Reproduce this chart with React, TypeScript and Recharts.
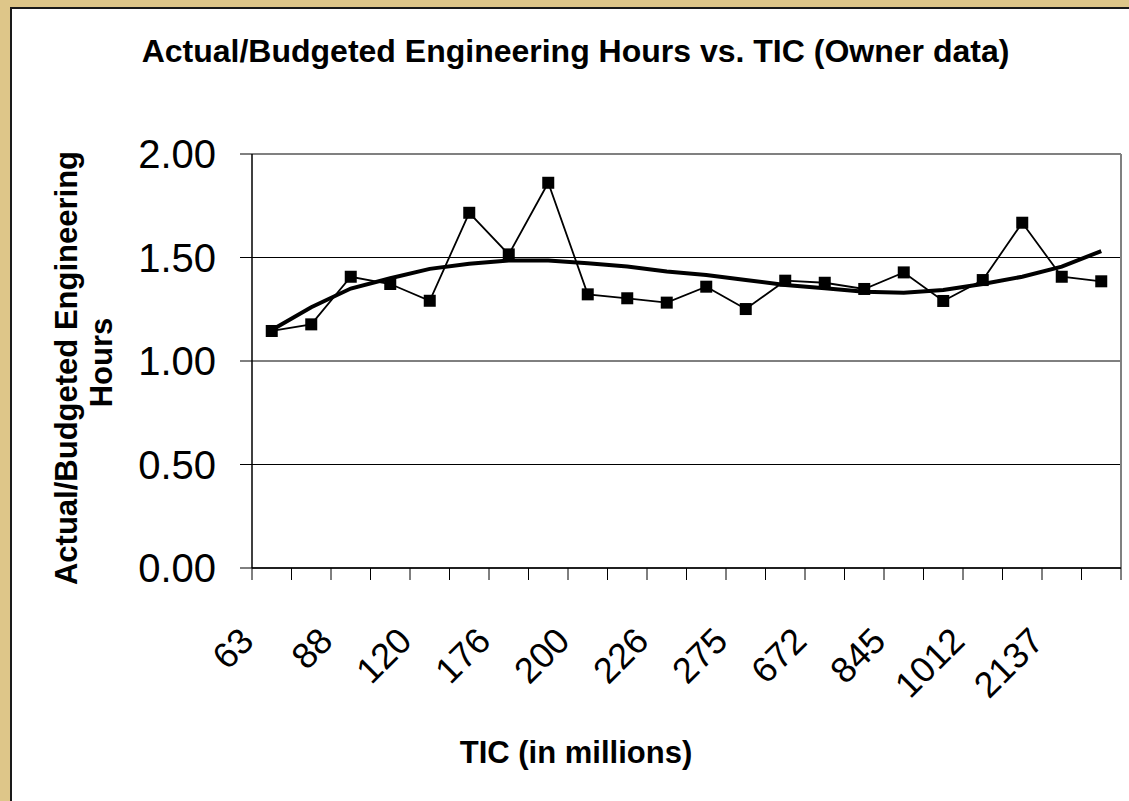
import React from 'react';
import { LineChart, Line, XAxis, YAxis, CartesianGrid, ReferenceLine } from 'recharts';

// Category labels (only every other label is printed on the original chart)
const categories = ['63', '', '88', '', '120', '', '176', '', '200', '', '226', '', '275', '', '672', '', '845', '', '1012', '', '2137', ''];
// Actual/Budgeted engineering hours (markers)
const actualRatio = [1.145, 1.177, 1.407, 1.372, 1.291, 1.716, 1.515, 1.861, 1.322, 1.303, 1.282, 1.359, 1.251, 1.388, 1.378, 1.348, 1.428, 1.29, 1.391, 1.668, 1.407, 1.385];
// Smoothed trend line
const trendRatio = [1.15, 1.26, 1.35, 1.4, 1.445, 1.47, 1.485, 1.485, 1.472, 1.456, 1.432, 1.415, 1.391, 1.367, 1.351, 1.335, 1.33, 1.343, 1.372, 1.407, 1.456, 1.531];
const yTicks = [0, 0.5, 1, 1.5, 2];

const edgeTicks = Array.from({ length: categories.length + 1 }, (_, i) => i);
const labelTicks = categories.map((c, i) => ({ c, v: i + 0.5 })).filter((d) => d.c !== '').map((d) => d.v);

const data = categories.map((c, i) => ({
  x: i + 0.5,
  name: c,
  actual: actualRatio[i],
  trend: trendRatio[i],
}));

const FONT = '"Liberation Sans", Arial, Helvetica, sans-serif';
const TAN = '#DEC689';

const SquareDot = (props: any) => {
  const { cx, cy } = props;
  if (cx == null || cy == null) return null;
  return <rect x={cx - 6} y={cy - 6} width={12} height={12} fill="#000" />;
};

const EmptyTick = () => <g />;

const CategoryTick = (props: any) => {
  const { x, y, payload } = props;
  const idx = Math.floor(payload.value);
  const label = categories[idx] ?? '';
  const px = x - 16;
  const py = y + 63;
  return (
    <text
      x={px}
      y={py}
      transform={`rotate(-45, ${px}, ${py})`}
      textAnchor="end"
      fontSize={36}
      fontFamily={FONT}
      fill="#000"
    >
      {label}
    </text>
  );
};

export default function App() {
  return (
    <div style={{ position: 'absolute', left: 0, top: 0, width: 1129, height: 801, background: '#fff', overflow: 'hidden' }}>
      <div style={{ position: 'absolute', left: 0, top: 0, width: 10, height: 801, background: TAN }} />
      <div style={{ position: 'absolute', left: 0, top: 0, width: 1129, height: 7, background: TAN }} />
      <div style={{ position: 'absolute', left: 10, top: 7, width: 2, height: 794, background: '#1a1a1a' }} />
      <div style={{ position: 'absolute', left: 10, top: 7, width: 1119, height: 2, background: '#1a1a1a' }} />
      <div style={{ position: 'absolute', left: 0, top: 0 }}>
        <LineChart width={1129} height={801} data={data} margin={{ top: 154, right: 8, left: 152, bottom: 133 }}>
          <CartesianGrid xAxisId="edges" vertical={false} stroke="#000" strokeWidth={1} />
          <XAxis
            xAxisId="edges"
            dataKey="x"
            type="number"
            domain={[0, categories.length]}
            ticks={edgeTicks}
            interval={0}
            height={12}
            tickSize={12}
            tick={<EmptyTick />}
            axisLine={{ stroke: '#000', strokeWidth: 1.5 }}
            tickLine={{ stroke: '#000', strokeWidth: 1 }}
          />
          <XAxis
            xAxisId="labels"
            dataKey="x"
            type="number"
            domain={[0, categories.length]}
            ticks={labelTicks}
            interval={0}
            height={88}
            tickSize={0}
            tickMargin={0}
            axisLine={false}
            tickLine={false}
            tick={<CategoryTick />}
          />
          <YAxis
            type="number"
            domain={[0, 2]}
            ticks={yTicks}
            interval={0}
            width={100}
            tickSize={12}
            tickMargin={24}
            tickFormatter={(v: number) => v.toFixed(2)}
            tick={{ fontSize: 40, fontFamily: FONT, fill: '#000' }}
            axisLine={{ stroke: '#000', strokeWidth: 1.5 }}
            tickLine={{ stroke: '#000', strokeWidth: 1 }}
          />
          <ReferenceLine xAxisId="edges" y={2} stroke="#808080" strokeWidth={2} />
          <ReferenceLine xAxisId="edges" x={categories.length} stroke="#808080" strokeWidth={2} />
          <Line
            xAxisId="edges"
            type="linear"
            dataKey="trend"
            stroke="#000"
            strokeWidth={4}
            dot={false}
            activeDot={false}
            isAnimationActive={false}
          />
          <Line
            xAxisId="edges"
            type="linear"
            dataKey="actual"
            stroke="#000"
            strokeWidth={1.8}
            dot={<SquareDot />}
            activeDot={false}
            isAnimationActive={false}
          />
        </LineChart>
      </div>
      <svg width={1129} height={801} style={{ position: 'absolute', left: 0, top: 0, pointerEvents: 'none' }}>
        <text x={575.5} y={62} textAnchor="middle" fontFamily={FONT} fontWeight="bold" fontSize={32} fill="#000">
          Actual/Budgeted Engineering Hours vs. TIC (Owner data)
        </text>
        <text x={576} y={763} textAnchor="middle" fontFamily={FONT} fontWeight="bold" fontSize={31} fill="#000">
          TIC (in millions)
        </text>
        <text transform="translate(76.5,368) rotate(-90)" textAnchor="middle" fontFamily={FONT} fontWeight="bold" fontSize={31} fill="#000">
          Actual/Budgeted Engineering
        </text>
        <text transform="translate(112,362.5) rotate(-90)" textAnchor="middle" fontFamily={FONT} fontWeight="bold" fontSize={31} fill="#000">
          Hours
        </text>
      </svg>
    </div>
  );
}
